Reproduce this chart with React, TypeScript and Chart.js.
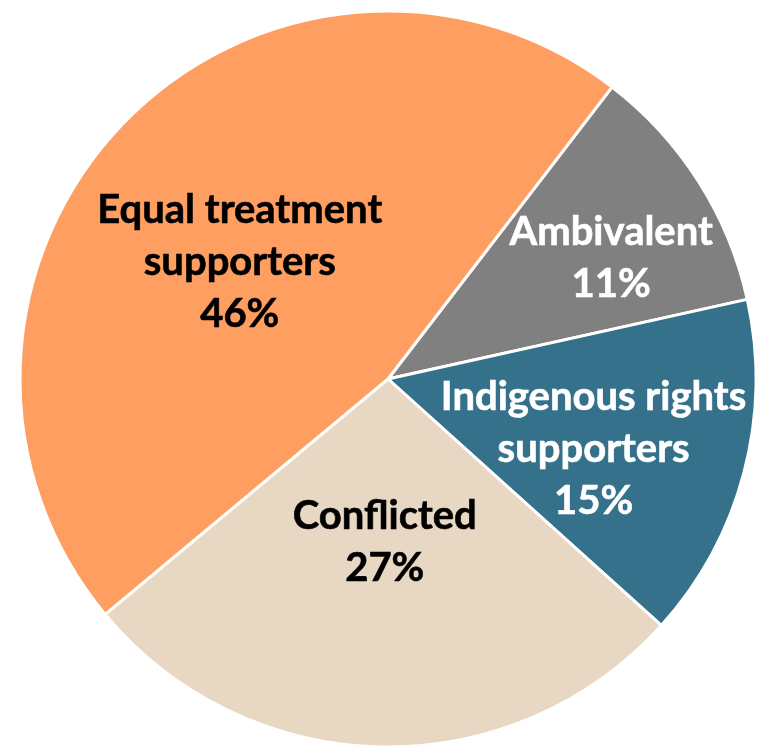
import React, { useEffect, useRef } from "react";
import { Chart, registerables } from "chart.js";

Chart.register(...registerables);

const categories = ["Ambivalent", "Indigenous rights supporters", "Conflicted", "Equal treatment supporters"];
const labelLines = [["Ambivalent"], ["Indigenous rights", "supporters"], ["Conflicted"], ["Equal treatment", "supporters"]];
const values = [11, 15, 27, 46];
const colors = ["#808080", "#35718A", "#E8D8C3", "#FE9E60"];
const textColors = ["#FFFFFF", "#FFFFFF", "#000000", "#000000"];
const labelRadius = [0.69, 0.59, 0.443, 0.513];
const labelAngleOffset = [4, 4, 0, -5.6];

const FONT_SIZE = 40;
const LINE_H = 52;

const labelPlugin = {
  id: "sliceLabels",
  afterDatasetsDraw(chart: any) {
    const ctx = chart.ctx;
    const meta = chart.getDatasetMeta(0);
    ctx.save();
    ctx.font = `bold ${FONT_SIZE}px Lato`;
    ctx.textAlign = "center";
    ctx.textBaseline = "middle";
    meta.data.forEach((arc: any, i: number) => {
      const { x, y, startAngle, endAngle, outerRadius } = arc.getProps(["x", "y", "startAngle", "endAngle", "outerRadius"], true);
      const mid = (startAngle + endAngle) / 2 + (labelAngleOffset[i] * Math.PI) / 180;
      const r = outerRadius * labelRadius[i];
      const cx = x + Math.cos(mid) * r;
      const cy = y + Math.sin(mid) * r;
      const lines = [...labelLines[i], `${values[i]}%`];
      const top = cy - ((lines.length - 1) * LINE_H) / 2;
      ctx.fillStyle = textColors[i];
      ctx.strokeStyle = textColors[i];
      ctx.lineWidth = 0.6;
      lines.forEach((t, k) => {
        ctx.fillText(t, cx, top + k * LINE_H);
        ctx.strokeText(t, cx, top + k * LINE_H);
      });
    });
    ctx.restore();
  },
};

export default function App() {
  const ref = useRef<HTMLCanvasElement>(null);
  useEffect(() => {
    if (!ref.current) return;
    const chart = new Chart(ref.current, {
      type: "pie",
      data: {
        labels: categories,
        datasets: [
          {
            data: values,
            backgroundColor: colors,
            borderColor: "#FFFFFF",
            borderWidth: 3,
          },
        ],
      },
      options: {
        responsive: false,
        animation: false,
        rotation: 37.5,
        layout: { padding: { left: 18.5, top: 9.5, right: 12.5, bottom: 1.5 } },
        plugins: { legend: { display: false }, tooltip: { enabled: false } },
      },
      plugins: [labelPlugin],
    });
    return () => chart.destroy();
  }, []);
  return (
    <div style={{ position: "absolute", left: 0, top: 0, width: 770, height: 750 }}>
      <canvas ref={ref} width={770} height={750} style={{ width: 770, height: 750 }} />
    </div>
  );
}
